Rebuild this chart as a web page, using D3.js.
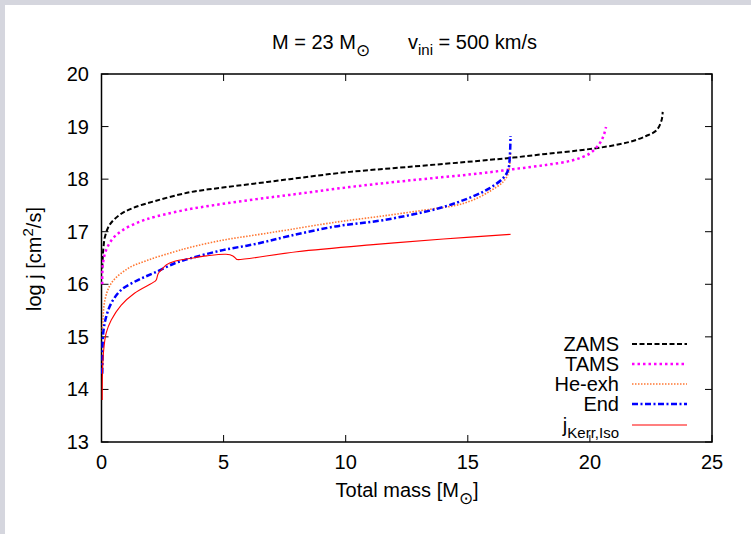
<!DOCTYPE html>
<html>
<head>
<meta charset="utf-8">
<script src="https://cdn.jsdelivr.net/npm/d3@7"></script>
<style>
  body { margin: 0; background: #d5d6de; }
  svg { display: block; font-family: "Liberation Sans", Arial, sans-serif; }
</style>
</head>
<body>
<svg width="751" height="534"></svg>
<script>
"use strict";
// data: total mass [Msun] vs log j [cm^2/s]
var zamsMass = [0.03, 0.05, 0.08, 0.14, 0.33, 0.74, 1.28, 2.24, 3.61, 4.97, 6.34, 7.7, 10, 12.5, 15.5, 16.86, 18.2, 19.6, 20.7, 21.64, 22.3, 22.73, 22.94, 22.98];
var zamsJ    = [16.3, 16.5, 16.7, 16.9, 17.13, 17.32, 17.45, 17.59, 17.75, 17.84, 17.92, 18.0, 18.13, 18.23, 18.35, 18.41, 18.48, 18.55, 18.62, 18.71, 18.82, 18.93, 19.13, 19.28];

var tamsMass = [0.03, 0.06, 0.19, 0.46, 0.87, 1.56, 2.24, 3.61, 4.97, 6.34, 7.7, 10, 12.5, 15.5, 16.86, 18.2, 19.3, 20.0, 20.4, 20.57, 20.66];
var tamsJ    = [16.0, 16.4, 16.65, 16.87, 17.03, 17.19, 17.29, 17.43, 17.53, 17.62, 17.7, 17.84, 17.97, 18.11, 18.19, 18.27, 18.36, 18.49, 18.68, 18.84, 18.99];

var heMass = [0.03, 0.05, 0.14, 0.4, 1.08, 1.9, 3.0, 3.61, 4.97, 6.34, 7.7, 9.57, 11.53, 13.5, 14.5, 15.2, 15.9, 16.45, 16.65, 16.72, 16.75];
var heJ    = [15.1, 15.25, 15.7, 16.02, 16.3, 16.46, 16.62, 16.7, 16.84, 16.94, 17.04, 17.18, 17.3, 17.43, 17.5, 17.6, 17.77, 17.95, 18.1, 18.3, 18.5];

var endMass = [0.03, 0.04, 0.07, 0.19, 0.4, 0.8, 1.49, 2.17, 3.0, 3.61, 4.97, 6.34, 7.7, 9.57, 11.53, 13.85, 15.2, 15.9, 16.45, 16.65, 16.72, 16.75];
var endJ    = [14.3, 14.56, 15.07, 15.38, 15.64, 15.89, 16.08, 16.22, 16.4, 16.49, 16.65, 16.77, 16.92, 17.1, 17.22, 17.45, 17.67, 17.83, 18.02, 18.17, 18.43, 18.82];

var kerrMass = [0.03, 0.04, 0.08, 0.19, 0.4, 0.8, 1.35, 2.17, 2.24, 2.32, 2.45, 2.65, 3.0, 3.61, 4.3, 5.1, 5.38, 5.52, 5.56, 8, 11, 14, 16.75];
var kerrJ    = [13.8, 14.3, 14.7, 15.07, 15.32, 15.6, 15.83, 16.05, 16.08, 16.2, 16.27, 16.37, 16.44, 16.49, 16.54, 16.57, 16.54, 16.48, 16.47, 16.62, 16.75, 16.86, 16.95];

var xTicks = [0, 5, 10, 15, 20, 25];
var yTicks = [13, 14, 15, 16, 17, 18, 19, 20];

var series = [
    {name: "ZAMS",   mass: zamsMass, j: zamsJ, color: "#000000", width: 2,   dash: "5,2.5"},
    {name: "TAMS",   mass: tamsMass, j: tamsJ, color: "#ff00ff", width: 2.5, dash: "2.5,3"},
    {name: "He-exh", mass: heMass,   j: heJ,   color: "#ff7733", width: 1.6, dash: "1.5,1.5"},
    {name: "End",    mass: endMass,  j: endJ,  color: "#0000ff", width: 2.5, dash: "6,2.5,2,2.5"},
    {name: "jKerr",  mass: kerrMass, j: kerrJ, color: "#ff0000", width: 1.1, dash: null}
];

var svg = d3.select("svg");
svg.append("rect").attr("x", 5).attr("y", 5).attr("width", 746).attr("height", 529).attr("fill", "#fff");

var pLeft = 101.5, pRight = 712, pTop = 74, pBottom = 442;
var x = d3.scaleLinear().domain([0, 25]).range([pLeft, pRight]);
var y = d3.scaleLinear().domain([13, 20]).range([pBottom, pTop]);

var line = d3.line()
    .x(function(d) { return x(d[0]); })
    .y(function(d) { return y(d[1]); })
    .curve(d3.curveCatmullRom.alpha(0.5));

// frame + inward ticks on all sides
var tl = 7;
var ax = svg.append("g").attr("stroke", "#000").attr("stroke-width", 1);
xTicks.forEach(function(t) {
    ax.append("line").attr("x1", x(t)).attr("x2", x(t)).attr("y1", pBottom).attr("y2", pBottom - tl);
    ax.append("line").attr("x1", x(t)).attr("x2", x(t)).attr("y1", pTop).attr("y2", pTop + tl);
});
yTicks.forEach(function(t) {
    ax.append("line").attr("y1", y(t)).attr("y2", y(t)).attr("x1", pLeft).attr("x2", pLeft + tl);
    ax.append("line").attr("y1", y(t)).attr("y2", y(t)).attr("x1", pRight).attr("x2", pRight - tl);
});
svg.append("rect").attr("x", pLeft).attr("y", pTop).attr("width", pRight - pLeft).attr("height", pBottom - pTop)
    .attr("fill", "none").attr("stroke", "#000").attr("stroke-width", 1.5);

var g = svg.append("g");
series.forEach(function(s) {
    var pts = s.mass.map(function(m, i) { return [m, s.j[i]]; });
    g.append("path")
        .attr("d", line(pts))
        .attr("fill", "none")
        .attr("stroke", s.color)
        .attr("stroke-width", s.width)
        .attr("stroke-dasharray", s.dash);
});

var fs = 20;
svg.append("g").selectAll("text").data(xTicks).enter().append("text")
    .attr("x", function(d) { return x(d); }).attr("y", 469)
    .attr("text-anchor", "middle").attr("font-size", fs).text(function(d) { return d; });
svg.append("g").selectAll("text").data(yTicks).enter().append("text")
    .attr("x", 89).attr("y", function(d) { return y(d) + 7; })
    .attr("text-anchor", "end").attr("font-size", fs).text(function(d) { return d; });

// axis titles
var xt = svg.append("text").attr("x", 407).attr("y", 497).attr("text-anchor", "middle").attr("font-size", fs);
xt.append("tspan").text("Total mass [M");
xt.append("tspan").attr("dy", 7).attr("font-size", 17).text("\u2299");
xt.append("tspan").attr("dy", -7).text("]");

var yt = svg.append("text").attr("transform", "translate(41,259) rotate(-90)")
    .attr("text-anchor", "middle").attr("font-size", fs);
yt.append("tspan").text("log j [cm");
yt.append("tspan").attr("dy", -8).attr("font-size", 15).text("2");
yt.append("tspan").attr("dy", 8).text("/s]");

// title
var t1 = svg.append("text").attr("x", 272).attr("y", 49).attr("font-size", fs);
t1.append("tspan").text("M = 23 M");
t1.append("tspan").attr("dy", 7).attr("font-size", 17).text("\u2299");
var t2 = svg.append("text").attr("x", 408).attr("y", 49).attr("font-size", fs);
t2.append("tspan").text("v");
t2.append("tspan").attr("dy", 6).attr("font-size", 15).text("ini");
t2.append("tspan").attr("dy", -6).text(" = 500 km/s");

// legend
var legY = [344, 364, 384, 404, 425];
series.forEach(function(s, i) {
    var ly = legY[i];
    var tx = svg.append("text").attr("x", 619).attr("y", ly + 7).attr("text-anchor", "end").attr("font-size", fs);
    if (s.name === "jKerr") {
        tx.append("tspan").text("j");
        tx.append("tspan").attr("dy", 6).attr("font-size", 15).text("Kerr,Iso");
    } else {
        tx.text(s.name);
    }
    svg.append("line").attr("x1", 632).attr("x2", 687).attr("y1", ly).attr("y2", ly)
        .attr("stroke", s.color).attr("stroke-width", s.width).attr("stroke-dasharray", s.dash);
});
</script>
</body>
</html>
